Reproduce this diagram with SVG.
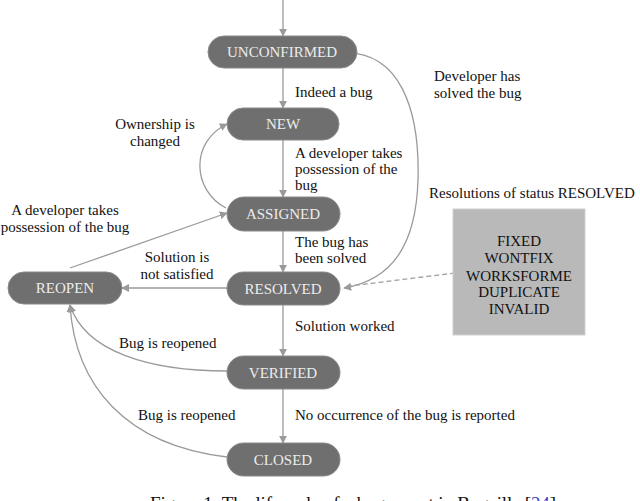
<svg xmlns="http://www.w3.org/2000/svg" width="640" height="501" viewBox="0 0 640 501" font-family="'Liberation Serif', 'Times New Roman', 'DejaVu Serif', serif">
<style>
text{font-family:'Liberation Serif','Times New Roman','DejaVu Serif',serif;font-size:15px;fill:#111}
.node rect{fill:#6f6f6f;stroke:#8a8a8a;stroke-width:1}
.node text{fill:#ececec;text-anchor:middle}
.c{fill:none;stroke:#9a9a9a;stroke-width:1.3}
.d{fill:none;stroke:#a6a6a6;stroke-width:1.4;stroke-dasharray:5 3}
.m{text-anchor:middle}
</style>
<defs>
<marker id="a" viewBox="0 0 10 10" refX="9" refY="5" markerWidth="8" markerHeight="8" markerUnits="userSpaceOnUse" orient="auto">
<path d="M0,0 L10,5 L0,10 z" fill="#9a9a9a"/>
</marker>
</defs>
<g id="connectors">
<path class="c" d="M283,0 V36" marker-end="url(#a)"/>
<path class="c" d="M283,68 V108" marker-end="url(#a)"/>
<path class="c" d="M283,140 V197" marker-end="url(#a)"/>
<path class="c" d="M283,231 V272" marker-end="url(#a)"/>
<path class="c" d="M283,305 V356" marker-end="url(#a)"/>
<path class="c" d="M283,389 V443" marker-end="url(#a)"/>
<path class="c" d="M342,53 C400,50 420,110 418,180 C416,245 392,280 344,288" marker-end="url(#a)"/>
<path class="c" d="M226,208 C192,190 190,142 227,124" marker-end="url(#a)"/>
<path class="c" d="M70,268 L227,213" marker-end="url(#a)"/>
<path class="c" d="M227,288 H122" marker-end="url(#a)"/>
<path class="c" d="M227,371 C150,371 85,352 70,305" marker-end="url(#a)"/>
<path class="c" d="M227,457 C125,445 75,385 70,305" marker-end="url(#a)"/>
<path class="d" d="M455,273 L350,286"/>
</g>
<g id="n-unconfirmed" class="node"><rect x="208" y="36" width="149" height="32" rx="16"/><text x="282" y="57">UNCONFIRMED</text></g>
<g id="n-new" class="node"><rect x="227" y="108" width="112" height="32" rx="16"/><text x="283" y="129">NEW</text></g>
<g id="n-assigned" class="node"><rect x="227" y="197" width="113" height="34" rx="17"/><text x="283" y="219">ASSIGNED</text></g>
<g id="n-resolved" class="node"><rect x="227" y="272" width="113" height="33" rx="16.5"/><text x="283" y="294">RESOLVED</text></g>
<g id="n-reopen" class="node"><rect x="8" y="272" width="114" height="32" rx="16"/><text x="65" y="293">REOPEN</text></g>
<g id="n-verified" class="node"><rect x="227" y="356" width="113" height="33" rx="16.5"/><text x="283" y="378">VERIFIED</text></g>
<g id="n-closed" class="node"><rect x="227" y="443" width="113" height="33" rx="16.5"/><text x="283" y="465">CLOSED</text></g>
<g id="n-resolutions">
<rect x="453" y="209" width="132" height="126" fill="#b9b9b9" stroke="#d0d0d0" stroke-width="1"/>
<text class="m" x="519" y="246">FIXED</text>
<text class="m" x="519" y="263">WONTFIX</text>
<text class="m" x="519" y="281">WORKSFORME</text>
<text class="m" x="519" y="297">DUPLICATE</text>
<text class="m" x="519" y="314">INVALID</text>
</g>
<g id="labels">
<text x="295" y="97">Indeed a bug</text>
<text x="295" y="158">A developer takes</text>
<text x="295" y="174">possession of the</text>
<text x="295" y="190">bug</text>
<text x="295" y="247">The bug has</text>
<text x="295" y="263">been solved</text>
<text class="m" x="177" y="262">Solution is</text>
<text class="m" x="177" y="279">not satisfied</text>
<text class="m" x="155" y="129">Ownership is</text>
<text class="m" x="155" y="146">changed</text>
<text class="m" x="65" y="215">A developer takes</text>
<text class="m" x="65" y="232">possession of the bug</text>
<text x="434" y="81">Developer has</text>
<text x="434" y="98">solved the bug</text>
<text x="429" y="198">Resolutions of status RESOLVED</text>
<text x="295" y="331">Solution worked</text>
<text x="119" y="348">Bug is reopened</text>
<text x="138" y="420">Bug is reopened</text>
<text x="295" y="420">No occurrence of the bug is reported</text>
</g>
<text x="150" y="510" style="font-size:19px" textLength="406" lengthAdjust="spacing">Figure 1: The lifecycle of a bug report in Bugzilla [<tspan fill="#3344cc">24</tspan>]</text>
</svg>
